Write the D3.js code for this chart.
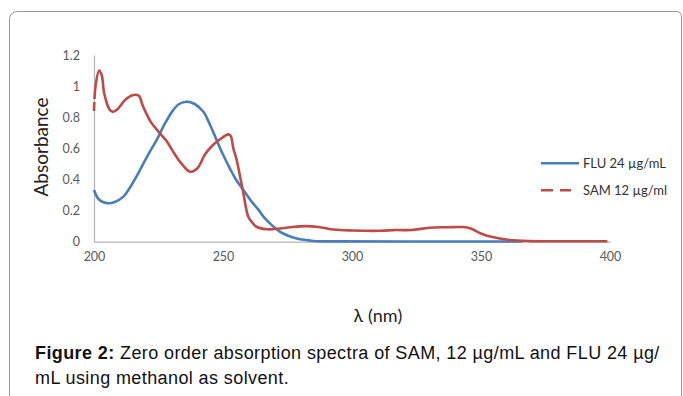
<!DOCTYPE html>
<html lang="en">
<head>
    <meta charset="UTF-8">
    <title>Zero order absorption spectra</title>
    <script src="https://d3js.org/d3.v7.min.js"></script>
    <style>
      body { margin: 0; background: #fff; }
      svg { display: block; }
    </style>
</head>
<body>

    <svg width="683" height="396"></svg>

    <script>
    // wavelengths (nm) and absorbance
    const fluNm  = [200, 202, 205.6, 208, 211.4, 214, 217.8, 221, 224.3, 227.5, 230.7, 233, 235.9, 239, 242.4, 245, 247.5, 250, 252.7, 255, 258, 261, 264, 266, 269, 272, 275, 278.6, 285, 295, 320, 366];
    const fluAbs = [0.332, 0.27, 0.247, 0.255, 0.29, 0.35, 0.46, 0.56, 0.654, 0.76, 0.846, 0.885, 0.90, 0.885, 0.835, 0.75, 0.654, 0.56, 0.47, 0.40, 0.33, 0.26, 0.20, 0.155, 0.105, 0.065, 0.04, 0.02, 0.005, 0.002, 0.001, 0.001];

    const samNm  = [200, 200.6, 202, 203, 204, 206, 207.2, 209, 212, 214.6, 217.2, 219, 222, 225, 228, 231, 234, 237.2, 240, 243, 246, 249, 252, 253, 254, 255.3, 257.9, 259.8, 261.5, 263, 267, 272, 277, 282, 287, 293, 300, 311, 317, 323, 330, 337, 343, 346, 349, 352, 355, 361, 369, 380, 399];
    const samAbs = [0.84, 1.0, 1.10, 1.07, 0.95, 0.85, 0.835, 0.85, 0.91, 0.94, 0.94, 0.87, 0.77, 0.707, 0.65, 0.57, 0.5, 0.45, 0.47, 0.56, 0.62, 0.66, 0.69, 0.68, 0.6, 0.525, 0.31, 0.16, 0.12, 0.096, 0.08, 0.085, 0.095, 0.10, 0.095, 0.078, 0.072, 0.07, 0.075, 0.075, 0.09, 0.093, 0.094, 0.085, 0.06, 0.04, 0.028, 0.011, 0.004, 0.003, 0.003];

    const xTicks = [200, 250, 300, 350, 400];
    const yTicks = [0, 0.2, 0.4, 0.6, 0.8, 1, 1.2];
    const seriesNames = ['FLU 24 µg/mL', 'SAM 12 µg/ml'];
    const colors = ['#4a7ebb', '#be4b48'];

    const svg = d3.select('svg');
    const tickFont = 'Lato, "Open Sans", sans-serif';

    // frame round the figure
    svg.append('path')
        .attr('d', 'M9.5,400 L9.5,20 Q9.5,11.5 18,11.5 L676,11.5 Q681.5,11.5 681.5,17 L681.5,400')
        .attr('fill', 'none')
        .attr('stroke', '#9a9a9a')
        .attr('stroke-width', 1);

    const x = d3.scaleLinear().domain([200, 400]).range([94, 610]);
    const y = d3.scaleLinear().domain([0, 1.2]).range([241.7, 55]);

    const gx = svg.append('g')
        .attr('transform', 'translate(0,241.7)')
        .call(d3.axisBottom(x).tickValues(xTicks).tickSize(0).tickPadding(10).tickFormat(d => d));
    const gy = svg.append('g')
        .attr('transform', 'translate(94,0)')
        .call(d3.axisLeft(y).tickValues(yTicks).tickSize(0).tickPadding(14).tickFormat(d => String(+d.toFixed(1))));

    [gx, gy].forEach(g => {
        g.select('.domain').attr('stroke', '#b3b3b3').attr('stroke-width', 1.2);
        g.selectAll('text')
            .attr('fill', '#595959')
            .style('font-family', tickFont)
            .style('font-size', '12.5px');
    });

    const line = d3.line()
        .x(d => x(d[0]))
        .y(d => y(d[1]))
        .curve(d3.curveCatmullRom.alpha(0.5));

    const flu = d3.zip(fluNm, fluAbs);
    const sam = d3.zip(samNm, samAbs);

    svg.append('path')
        .datum(flu)
        .attr('d', line)
        .attr('fill', 'none')
        .attr('stroke', colors[0])
        .attr('stroke-width', 2.6)
        .attr('stroke-linejoin', 'round');

    svg.append('path')
        .datum(sam)
        .attr('d', line)
        .attr('fill', 'none')
        .attr('stroke', colors[1])
        .attr('stroke-width', 2.6)
        .attr('stroke-linejoin', 'round')
        .attr('stroke-dasharray', '9 3 100000');

    // axis titles
    svg.append('text')
        .attr('transform', 'translate(48,147) rotate(-90)')
        .attr('text-anchor', 'middle')
        .style('font-family', tickFont)
        .style('font-size', '19px')
        .attr('fill', '#222')
        .text('Absorbance');

    svg.append('text')
        .attr('x', 378)
        .attr('y', 322)
        .attr('text-anchor', 'middle')
        .style('font-family', tickFont)
        .style('font-size', '18px')
        .attr('fill', '#222')
        .text('λ (nm)');

    // legend
    const legend = svg.append('g');
    seriesNames.forEach((name, i) => {
        const ly = 163.3 + i * 27;
        legend.append('line')
            .attr('x1', 541).attr('x2', i === 0 ? 579 : 571)
            .attr('y1', ly).attr('y2', ly)
            .attr('stroke', colors[i])
            .attr('stroke-width', 2.6)
            .attr('stroke-dasharray', i === 0 ? null : '12 7');
        legend.append('text')
            .attr('x', 583)
            .attr('y', ly + 4.5)
            .style('font-family', tickFont)
            .style('font-size', '13px')
            .attr('fill', '#333')
            .text(name);
    });

    // caption
    const cap = svg.append('text')
        .style('font-family', '"Liberation Sans", Arial, sans-serif')
        .style('font-size', '18px')
        .style('letter-spacing', '0.4px')
        .attr('fill', '#111');
    const l1 = cap.append('tspan').attr('x', 35).attr('y', 359);
    l1.append('tspan').style('font-weight', 'bold').text('Figure 2:');
    l1.append('tspan').text(' Zero order absorption spectra of SAM, 12 µg/mL and FLU 24 µg/');
    cap.append('tspan').attr('x', 35).attr('y', 384).text('mL using methanol as solvent.');
    </script>
</body>
</html>
